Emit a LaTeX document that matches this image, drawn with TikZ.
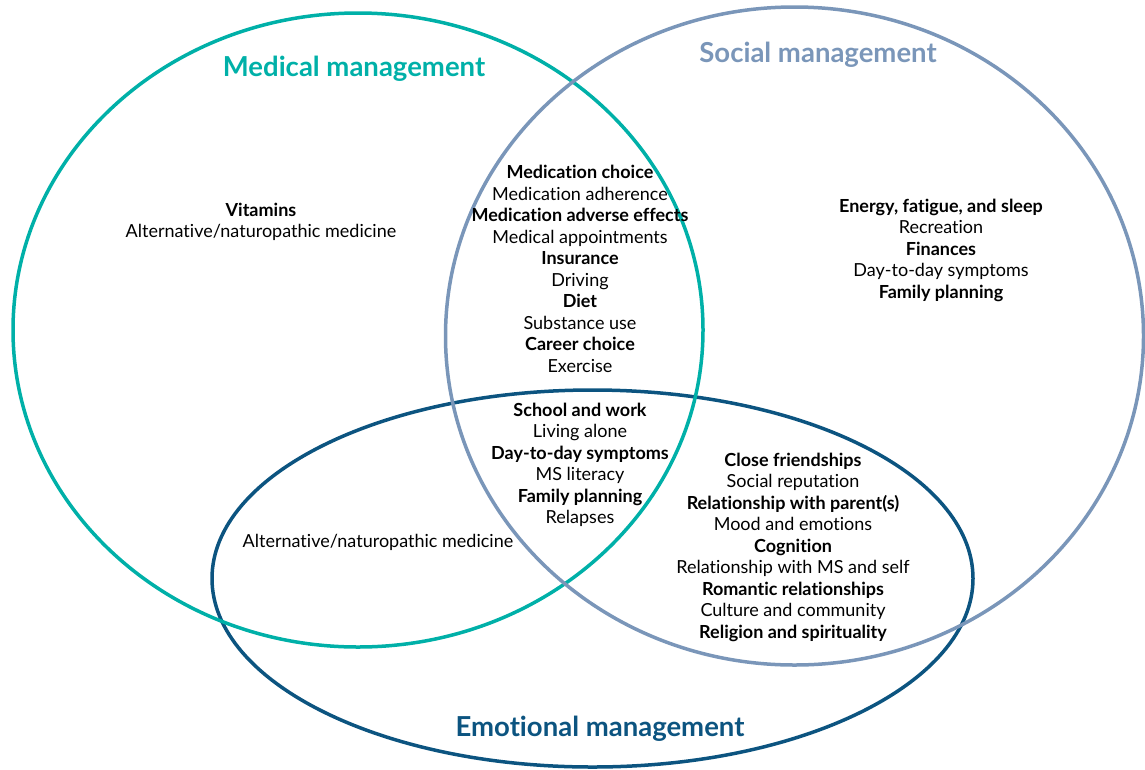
\documentclass[tikz,border=0pt]{standalone}
\usepackage{fontspec}
\setmainfont[Ligatures=NoCommon]{Lato}
\definecolor{medteal}{RGB}{0,176,168}
\definecolor{socgray}{RGB}{122,150,185}
\definecolor{emoblue}{RGB}{12,84,128}

\begin{document}
\begin{tikzpicture}
  [x=1pt,y=-1pt,
   area/.style={line width=3.5pt},
   title/.style={font=\bfseries\fontsize{27.5}{30}\selectfont},
   items/.style={align=center,font=\fontsize{18}{21.5}\selectfont}]
  \useasboundingbox (0,0) rectangle (1145,769);

  % the three areas
  \draw[area,emoblue] (592.5,578.5) ellipse [x radius=380.5, y radius=188.5];
  \draw[area,medteal] (358,330) ellipse [x radius=345, y radius=317];
  \draw[area,socgray] (794.5,336) ellipse [x radius=349, y radius=329];

  \node[title,text=medteal] (medical) at (354,69) {Medical management};
  \node[title,text=socgray] (social) at (818,55) {Social management};
  \node[title,text=emoblue] (emotional) at (600,729) {Emotional management};

  % medical only
  \node[items] (medonly) at (261,222) {\textbf{Vitamins}\\Alternative/naturopathic medicine};

  % medical and social
  \node[items] (medsoc) at (580,269) {\textbf{Medication choice}\\Medication adherence\\
    \textbf{Medication adverse effects}\\Medical appointments\\\textbf{Insurance}\\Driving\\
    \textbf{Diet}\\Substance use\\\textbf{Career choice}\\Exercise};

  % all three
  \node[items] (allthree) at (580,465) {\textbf{School and work}\\Living alone\\
    \textbf{Day-to-day symptoms}\\MS literacy\\\textbf{Family planning}\\Relapses};

  % social only
  \node[items] (soconly) at (941,250) {\textbf{Energy, fatigue, and sleep}\\Recreation\\
    \textbf{Finances}\\Day-to-day symptoms\\\textbf{Family planning}};

  % social and emotional
  \node[items] (socemo) at (793,547) {\textbf{Close friendships}\\Social reputation\\
    \textbf{Relationship with parent(s)}\\Mood and emotions\\\textbf{Cognition}\\
    Relationship with MS and self\\\textbf{Romantic relationships}\\Culture and community\\
    \textbf{Religion and spirituality}};

  % medical and emotional
  \node[items] (medemo) at (378,542) {Alternative/naturopathic medicine};
\end{tikzpicture}
\end{document}
